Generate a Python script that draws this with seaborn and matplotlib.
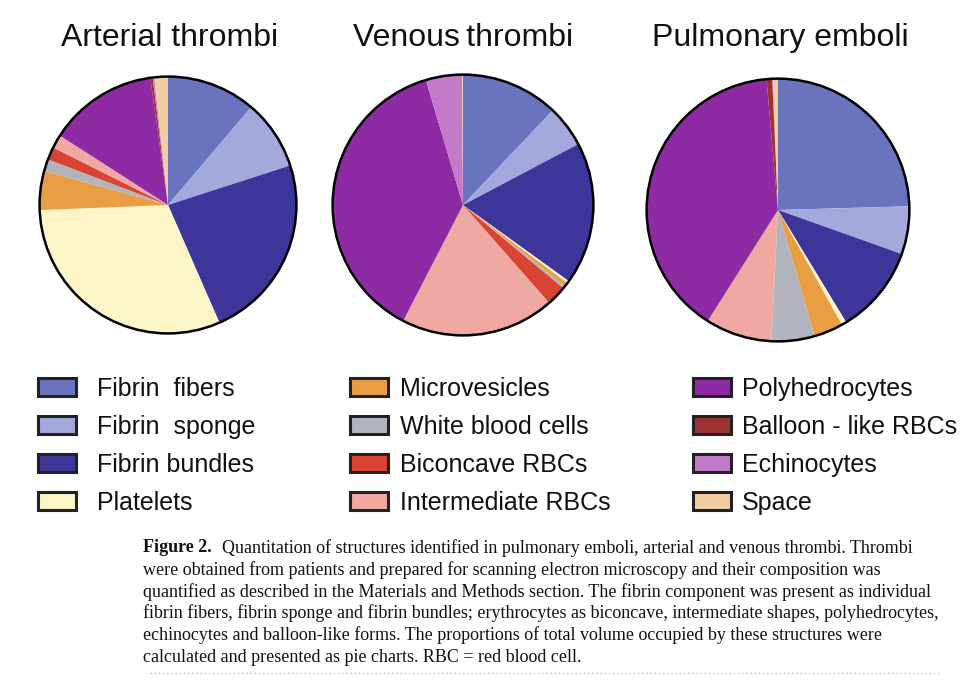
import matplotlib
matplotlib.use("Agg")
import matplotlib.pyplot as plt
import seaborn as sns
from matplotlib.patches import Circle, Patch
from matplotlib.lines import Line2D

# structure names and the shares (%)
categories = ["Fibrin  fibers", "Fibrin  sponge", "Fibrin bundles", "Platelets",
              "Microvesicles", "White blood cells", "Biconcave RBCs", "Intermediate RBCs",
              "Polyhedrocytes", "Balloon - like RBCs", "Echinocytes", "Space"]
arterial = [11.2, 8.8, 23.4, 30.9, 4.9, 1.5, 1.6, 1.7, 13.7, 0.3, 0.2, 1.7]
venous = [12.1, 5.2, 17.7, 0.3, 0.5, 0.3, 2.5, 19.1, 37.9, 0.0, 4.5, 0.1]
pulmonary = [24.6, 5.9, 10.9, 0.6, 3.6, 5.3, 0.0, 8.2, 39.7, 0.7, 0.1, 0.6]
titles = ["Arterial thrombi", "Venous\u2009thrombi", "Pulmonary emboli"]

colors = ["#6A73BD", "#A3A8DD", "#3E359A", "#FDF5C8", "#E99E43", "#B1B3BD",
          "#D84333", "#F0A8A2", "#8E2AA4", "#9E3131", "#C37AC8", "#F3CDA2"]

caption = [
    "Quantitation of structures identified in pulmonary emboli, arterial and venous thrombi. Thrombi",
    "were obtained from patients and prepared for scanning electron microscopy and their composition was",
    "quantified as described in the Materials and Methods section. The fibrin component was present as individual",
    "fibrin fibers, fibrin sponge and fibrin bundles; erythrocytes as biconcave, intermediate shapes, polyhedrocytes,",
    "echinocytes and balloon-like forms. The proportions of total volume occupied by these structures were",
    "calculated and presented as pie charts. RBC = red blood cell.",
]

sns.set_style("white")
palette = sns.color_palette(colors)
plt.rcParams["font.family"] = ["Liberation Sans", "DejaVu Sans"]
plt.rcParams["text.color"] = "#111111"

W, H = 980, 680
fig = plt.figure(figsize=(W / 100, H / 100), dpi=100)

# pie centre (px from top-left) and radius
centres = [(168, 205, 131), (463, 205, 133), (778, 210, 134)]
title_x = [170, 463, 780]

for vals, (cx, cy, r), t, tx in zip([arterial, venous, pulmonary], centres, titles, title_x):
    ax = fig.add_axes([(cx - r) / W, (H - cy - r) / H, 2 * r / W, 2 * r / H])
    ax.pie(vals, colors=palette, startangle=90, counterclock=False,
           wedgeprops=dict(linewidth=0))
    ax.add_patch(Circle((0, 0), 1, fill=False, edgecolor="black", linewidth=1.8))
    ax.set_xlim(-1.02, 1.02)
    ax.set_ylim(-1.02, 1.02)
    ax.axis("off")
    fig.text(tx / W, 1 - 38 / H, t, ha="center", va="center", fontsize=23)

# legend, three columns
handles = [Patch(facecolor=c, edgecolor="#222222", linewidth=2.2) for c in palette]
col_x = [38, 350, 693]
col_pad = [0.85, 0.5, 0.45]
for k, (x, pad) in enumerate(zip(col_x, col_pad)):
    sl = slice(4 * k, 4 * k + 4)
    fig.legend(handles[sl], categories[sl], loc="upper left",
               bbox_to_anchor=(x / W, 1 - 377 / H), frameon=False,
               fontsize=18, handlelength=1.5, handleheight=0.75,
               handletextpad=pad, labelspacing=0.56, borderpad=0, borderaxespad=0)

# caption
serif = ["Liberation Serif", "DejaVu Serif"]
cap_fs = 13.0
y0 = 548
t0 = fig.text(143 / W, 1 - y0 / H, "Figure 2.", ha="left", va="center",
              fontsize=cap_fs, family=serif, weight="bold")
fig.canvas.draw()
bb = t0.get_window_extent()
fig.text((bb.x1 + 10) / W, 1 - y0 / H, caption[0], ha="left", va="center",
         fontsize=cap_fs, family=serif)
for i, line in enumerate(caption[1:], start=1):
    fig.text(143 / W, 1 - (y0 + 21.8 * i) / H, line, ha="left", va="center",
             fontsize=cap_fs, family=serif)

fig.add_artist(Line2D([150 / W, 940 / W], [1 - 673 / H, 1 - 673 / H],
                      color="#BBBBBB", linestyle=(0, (1, 2)), linewidth=1))

fig.savefig("out.png", dpi=100)
